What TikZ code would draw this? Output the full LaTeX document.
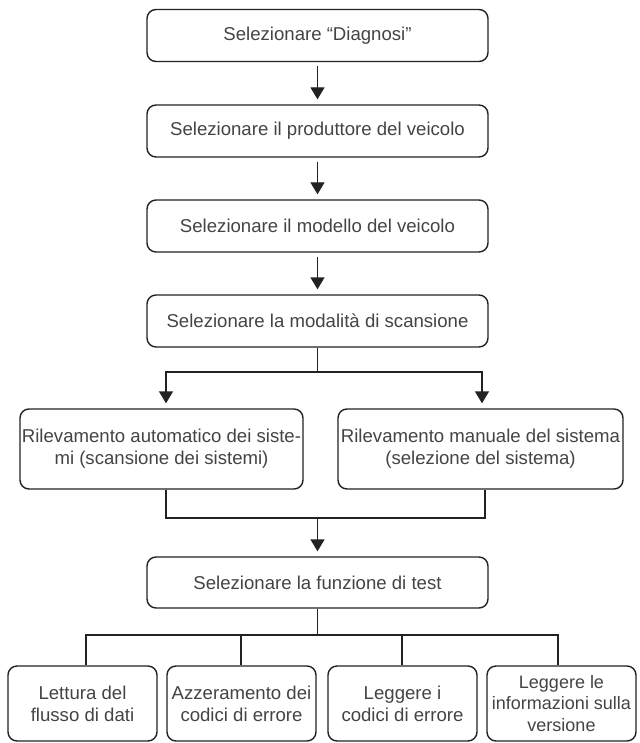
\documentclass[tikz,border=0pt]{standalone}
\usepackage{fontspec}
\setmainfont{Liberation Sans}
\usetikzlibrary{arrows.meta}
\definecolor{txt}{HTML}{444444}
\definecolor{ln}{HTML}{222222}
\tikzset{
  box/.style={draw=ln, line width=1.4pt, rounded corners=9pt, rectangle, align=center,
    text=txt, font=\fontsize{18.6}{22}\selectfont, inner sep=0pt},
  conn/.style={draw=ln, line width=1.4pt},
  arr/.style={conn, -{Triangle[width=14pt,length=12pt]}},
}
\begin{document}
\begin{tikzpicture}[x=1pt,y=-1pt]
\useasboundingbox[fill=white] (0,0) rectangle (639,743);
% main column
\node[box, minimum width=341pt, minimum height=52pt] (b1) at (317.5,35.5) {Selezionare “Diagnosi”};
\node[box, minimum width=341pt, minimum height=52pt] (b2) at (317.5,131) {Selezionare il produttore del veicolo};
\node[box, minimum width=341pt, minimum height=52pt] (b3) at (317.5,226) {Selezionare il modello del veicolo};
\node[box, minimum width=341pt, minimum height=52pt] (b4) at (317.5,321) {Selezionare la modalità di scansione};
\node[box, minimum width=283pt, minimum height=80pt] (l) at (161.5,449) {Rilevamento automatico dei siste-\\mi (scansione dei sistemi)};
\node[box, minimum width=285pt, minimum height=80pt] (r) at (480.5,449) {Rilevamento manuale del sistema\\(selezione del sistema)};
\node[box, minimum width=341pt, minimum height=51pt] (t) at (317.5,582.5) {Selezionare la funzione di test};
\node[box, minimum width=149pt, minimum height=75pt] (f1) at (82.5,703.5) {Lettura del\\flusso di dati};
\node[box, minimum width=149pt, minimum height=75pt] (f2) at (241.5,703.5) {Azzeramento dei\\codici di errore};
\node[box, minimum width=149pt, minimum height=75pt] (f3) at (402.5,703.5) {Leggere i\\codici di errore};
\node[box, minimum width=149pt, minimum height=75pt, font=\fontsize{18}{21.5}\selectfont] (f4) at (561.5,703.5) {Leggere le\\informazioni sulla\\versione};
% straight arrows
\draw[arr, shorten <=4pt, shorten >=5pt] (b1) -- (b2);
\draw[arr, shorten <=4pt, shorten >=5pt] (b2) -- (b3);
\draw[arr, shorten <=4pt, shorten >=5pt] (b3) -- (b4);
% split
\coordinate (s) at (317.5,372);
\coordinate (sl) at (166,372);
\coordinate (sr) at (482,372);
\draw[conn] (b4.south) -- (s);
\draw[arr, shorten >=5pt] (s) -- (sl) -- (sl |- l.north);
\draw[arr, shorten >=5pt] (s) -- (sr) -- (sr |- r.north);
% merge
\coordinate (ml) at (166,518);
\coordinate (mr) at (485,518);
\coordinate (m) at (317.5,518);
\draw[conn] (ml |- l.south) -- (ml) -- (mr) -- (mr |- r.south);
\draw[arr, shorten >=5pt] (m) -- (t.north);
% tree
\coordinate (tb) at (317.5,635);
\coordinate (h1) at (86,635);
\coordinate (h2) at (241,635);
\coordinate (h3) at (402,635);
\coordinate (h4) at (558,635);
\draw[conn] (t.south) -- (tb);
\draw[conn] (h1 |- f1.north) -- (h1) -- (h4) -- (h4 |- f4.north);
\draw[conn] (h2) -- (h2 |- f2.north);
\draw[conn] (h3) -- (h3 |- f3.north);
\end{tikzpicture}
\end{document}
